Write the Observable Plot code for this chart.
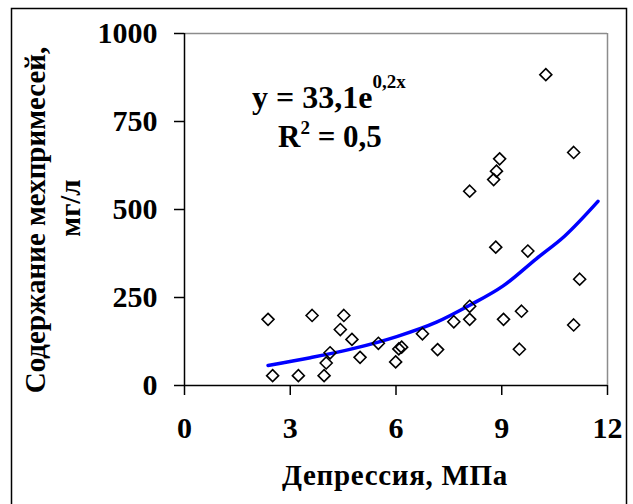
<!DOCTYPE html>
<html>
<head>
<meta charset="utf-8">
<script src="https://cdn.jsdelivr.net/npm/d3@7"></script>
<script src="https://cdn.jsdelivr.net/npm/@observablehq/plot@0.6"></script>
<style>
  html, body { margin: 0; padding: 0; background: #fff; }
  #chart { width: 633px; height: 504px; overflow: hidden; }
</style>
</head>
<body>
<div id="chart"></div>
<script>
// Observed points: depression (MPa) vs. mechanical impurities (mg/l)
const depression = [2.37, 2.5, 3.23, 3.62, 3.96, 4.02, 4.13, 4.42, 4.52, 4.75, 4.98, 5.5, 5.99, 6.08, 6.16, 6.75, 7.18, 7.64, 8.09, 8.09, 8.09, 8.77, 8.85, 8.94, 8.83, 9.05, 9.5, 9.56, 9.74, 10.25, 11.04, 11.04, 11.21];
const impurities = [188, 28, 28, 199, 28, 64, 93, 159, 199, 131, 80, 120, 67, 104, 109, 147, 102, 181, 188, 225, 552, 585, 609, 644, 393, 188, 103, 211, 382, 883, 662, 172, 302];

// Exponential trend line
const trendX = [2.37, 3.57, 4.75, 6.02, 7.15, 8.09, 9.04, 9.98, 10.78, 11.73];
const trendY = [57, 79, 104, 139, 180, 228, 283, 360, 424, 523];

const xTicks = [0, 3, 6, 9, 12];
const yTicks = [0, 250, 500, 750, 1000];

const xTitle = "Депрессия, МПа";
const yTitle1 = "Содержание мехпримесей,";
const yTitle2 = "мг/л";
const eqMain = "y = 33,1e";
const eqExp = "0,2x";
const r2Main = "R";
const r2Exp = "2";
const r2Rest = " = 0,5";

const points = depression.map((x, i) => ({x, y: impurities[i]}));
const trend = trendX.map((x, i) => ({x, y: trendY[i]}));

const font = "'Liberation Serif', 'Times New Roman', serif";

const plot = Plot.plot({
  width: 633,
  height: 504,
  marginLeft: 184,
  marginRight: 26,
  marginTop: 33,
  marginBottom: 119,
  style: {fontFamily: font, fontWeight: "bold", color: "#000", background: "#fff", overflow: "visible"},
  x: {domain: [0, 12]},
  y: {domain: [0, 1000]},
  marks: [
    Plot.ruleY([1000], {stroke: "#8c8c8c", strokeWidth: 1.5}),
    Plot.ruleX([12], {stroke: "#8c8c8c", strokeWidth: 1.5}),
    Plot.axisY({ticks: yTicks, tickSize: 10, tickPadding: 17, fontSize: 30, label: null, tickFormat: d => String(d), stroke: "#000", strokeWidth: 1.5}),
    Plot.axisX({ticks: xTicks, tickSize: 10, tickPadding: 21, fontSize: 30, label: null, tickFormat: d => String(d), stroke: "#000", strokeWidth: 1.5}),
    Plot.ruleX([0], {stroke: "#000", strokeWidth: 1.5}),
    Plot.ruleY([0], {stroke: "#000", strokeWidth: 1.5}),
    Plot.line(trend, {x: "x", y: "y", stroke: "#0000ff", strokeWidth: 3.5, curve: "monotone-x"}),
    Plot.dot(points, {x: "x", y: "y", symbol: "diamond2", r: 5.4, stroke: "#000", strokeWidth: 1.6, fill: "none"})
  ]
});

document.getElementById("chart").appendChild(plot);

const svg = d3.select(plot);
svg.append("rect")
  .attr("x", 11.5).attr("y", 8.5).attr("width", 615).attr("height", 510)
  .attr("fill", "none").attr("stroke", "#000").attr("stroke-width", 1.5);

const txt = (sel) => sel.attr("font-family", font).attr("font-weight", "bold").attr("fill", "#000");

svg.append("text").call(txt)
  .attr("x", 395).attr("y", 485).attr("text-anchor", "middle").attr("font-size", 29)
  .attr("letter-spacing", 0.7)
  .text(xTitle);

svg.append("text").call(txt)
  .attr("transform", "translate(45,220) rotate(-90)").attr("text-anchor", "middle").attr("font-size", 29)
  .text(yTitle1);
svg.append("text").call(txt)
  .attr("transform", "translate(80,208) rotate(-90)").attr("text-anchor", "middle").attr("font-size", 29)
  .text(yTitle2);

const eq = svg.append("text").call(txt).attr("text-anchor", "start").attr("x", 252).attr("y", 108).attr("font-size", 32);
eq.append("tspan").text(eqMain);
eq.append("tspan").attr("dy", -20).attr("font-size", 19).text(eqExp);

const r2 = svg.append("text").call(txt).attr("text-anchor", "start").attr("x", 278).attr("y", 147).attr("font-size", 31);
r2.append("tspan").text(r2Main);
r2.append("tspan").attr("dy", -13).attr("font-size", 19).text(r2Exp);
r2.append("tspan").attr("dy", 13).text(r2Rest);
</script>
</body>
</html>
